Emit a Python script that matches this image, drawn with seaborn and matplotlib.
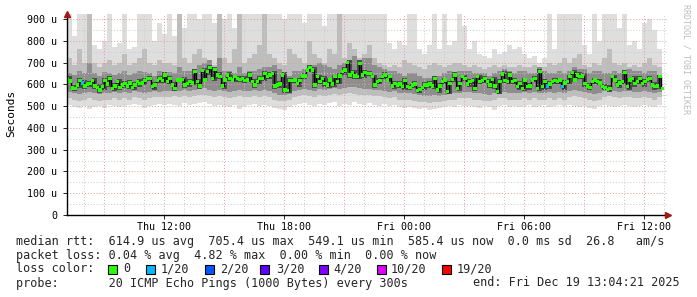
import numpy as np
import pandas as pd
import matplotlib
matplotlib.use("Agg")
import matplotlib.pyplot as plt
import matplotlib.dates as mdates
from matplotlib.patches import Rectangle
import seaborn as sns

# ---------------- data ----------------
# median RTT (microseconds), one value every 7.5 min from Thu 07:11
median_us = [
    625, 615, 584, 580, 597, 617, 607, 592, 601, 604, 617, 592, 586, 574, 589, 617, 601, 627, 581, 592,
    612, 586, 597, 604, 592, 607, 586, 597, 612, 604, 607, 617, 627, 627, 589, 597, 617,
    627, 617, 643, 612, 627, 597, 581, 620, 620, 623, 597, 604, 612, 607, 658, 612, 592, 663, 620, 658,
    678, 627, 669, 643, 635, 592, 620, 643, 627, 620, 635, 627, 623, 627, 617, 620, 643, 612, 597, 612, 627,
    627, 650, 635, 643, 650, 592, 597, 601, 643, 574, 571, 617, 617, 620, 604, 617, 638, 638, 666, 678,
    666, 597, 635, 612, 627, 604, 597, 620, 601, 635, 612, 638, 658, 666, 700, 643, 655, 638, 635, 696,
    643, 655, 650, 650, 635, 597, 612, 617, 635, 643, 620, 635, 592, 604, 597, 601, 589, 617, 589, 586,
    597, 601, 571, 577, 586, 597, 597, 601, 592, 627, 574, 592, 612, 620, 566, 604, 623, 643, 581, 604, 635,
    627, 601, 612, 617, 581, 635, 612, 617, 627, 612, 597, 623, 592, 566, 612, 648, 617, 612, 643, 612,
    617, 589, 604, 581, 620, 589, 592, 620, 627, 581, 658, 589, 612, 592, 601, 612, 617, 612, 620, 589,
    607, 612, 635, 655, 620, 643, 635, 638, 604, 592, 586, 612, 620, 612, 607, 589, 586, 577, 581, 635,
    620, 597, 607, 612, 655, 589, 620, 627, 604, 612, 627, 604, 612, 623, 627, 597, 589, 592, 635, 581,
]
# (index into median_us, lost pings out of 20)
loss_events = [(6, 1), (192, 1), (198, 1)]

# smoke envelopes (microseconds), one value every 15 min from Thu 07:08
smoke_max = [
    950, 820, 950, 950, 950, 780, 760, 800, 950, 770,
    790, 950, 760, 770, 950, 950, 950, 800, 880, 830,
    950, 820, 950, 860, 950, 950, 900, 950, 950, 880,
    950, 900, 950, 860, 950, 950, 950, 950, 950, 950,
    950, 950, 950, 900, 950, 950, 950, 880, 950, 950,
    950, 870, 950, 950, 950, 950, 950, 950, 950, 950,
    950, 950, 950, 950, 790, 760, 800, 780, 950, 950,
    760, 740, 780, 950, 760, 950, 780, 800, 950, 870,
    760, 800, 740, 730, 720, 760, 740, 750, 780, 760,
    770, 740, 720, 730, 700, 720, 950, 760, 950, 950,
    950, 950, 950, 780, 740, 950, 800, 950, 950, 950,
    860, 950, 780, 800, 760, 880, 900, 850, 760,
]
smoke_hi_mid = [
    720, 690, 760, 700, 950, 700, 680, 700, 710, 690,
    700, 740, 690, 700, 720, 760, 700, 690, 710, 700,
    700, 690, 950, 720, 700, 740, 760, 720, 700, 690,
    950, 720, 700, 760, 950, 700, 720, 740, 780, 950,
    740, 720, 700, 690, 760, 740, 720, 700, 800, 740,
    720, 700, 760, 740, 950, 720, 790, 760, 720, 740,
    780, 720, 700, 690, 680, 690, 680, 710, 700, 690,
    680, 670, 690, 700, 690, 680, 690, 700, 700, 690,
    680, 690, 680, 670, 680, 690, 680, 690, 680, 680,
    690, 680, 680, 690, 670, 680, 700, 690, 700, 720,
    700, 720, 740, 690, 680, 700, 690, 720, 760, 700,
    690, 700, 680, 690, 680, 700, 720, 690, 680,
]
smoke_hi_in = [
    650, 645, 660, 650, 700, 650, 640, 655, 650, 645,
    650, 660, 645, 650, 660, 655, 650, 640, 660, 650,
    655, 650, 680, 660, 660, 670, 690, 700, 710, 670,
    720, 660, 660, 650, 680, 650, 660, 660, 670, 680,
    680, 690, 670, 640, 640, 660, 660, 670, 680, 690,
    700, 690, 680, 670, 690, 700, 710, 730, 700, 720,
    720, 690, 680, 670, 660, 660, 650, 640, 650, 650,
    640, 630, 630, 640, 640, 650, 660, 650, 660, 660,
    660, 650, 650, 650, 640, 650, 660, 670, 660, 650,
    660, 660, 650, 650, 680, 660, 650, 650, 660, 650,
    660, 680, 670, 670, 650, 660, 660, 650, 650, 660,
    650, 660, 670, 660, 660, 650, 660, 660, 640,
]
smoke_hi_core = [
    640, 595, 630, 620, 615, 630, 600, 630, 640, 605,
    625, 615, 620, 610, 625, 630, 640, 610, 640, 655,
    640, 610, 630, 635, 625, 670, 625, 675, 690, 680,
    655, 630, 655, 645, 640, 640, 655, 625, 640, 660,
    655, 660, 615, 655, 630, 630, 630, 650, 690, 680,
    645, 640, 630, 645, 650, 680, 710, 665, 710, 665,
    660, 645, 630, 655, 645, 615, 615, 630, 600, 615,
    590, 610, 615, 640, 605, 630, 615, 655, 615, 645,
    625, 630, 645, 640, 625, 635, 625, 660, 655, 630,
    615, 630, 605, 640, 670, 625, 615, 630, 630, 620,
    645, 665, 655, 650, 605, 630, 625, 600, 595, 645,
    620, 665, 630, 640, 640, 625, 640, 610, 645,
]
smoke_lo_core = [
    605, 570, 585, 580, 590, 580, 560, 575, 590, 570,
    575, 585, 580, 575, 590, 595, 615, 575, 605, 605,
    600, 570, 610, 585, 590, 595, 580, 610, 645, 615,
    625, 580, 615, 610, 610, 605, 610, 585, 600, 615,
    625, 580, 585, 560, 560, 605, 590, 625, 655, 585,
    600, 590, 585, 590, 600, 645, 630, 625, 625, 630,
    640, 585, 600, 625, 610, 580, 585, 575, 575, 585,
    560, 575, 585, 580, 560, 600, 555, 610, 570, 615,
    590, 570, 600, 605, 585, 580, 555, 605, 600, 600,
    575, 570, 575, 610, 570, 575, 580, 600, 600, 575,
    600, 610, 625, 590, 575, 600, 595, 575, 565, 610,
    585, 600, 575, 590, 600, 590, 610, 575, 580,
]
smoke_lo_in = [
    565, 560, 555, 560, 565, 560, 555, 560, 560, 565,
    560, 565, 560, 570, 565, 560, 565, 570, 565, 570,
    570, 575, 570, 575, 570, 575, 580, 585, 575, 570,
    575, 570, 565, 570, 575, 570, 570, 575, 570, 575,
    570, 560, 550, 550, 555, 570, 575, 580, 575, 570,
    580, 575, 580, 585, 580, 585, 590, 590, 585, 580,
    580, 575, 575, 570, 565, 570, 560, 560, 560, 555,
    550, 545, 545, 550, 545, 550, 555, 560, 560, 565,
    565, 560, 560, 555, 550, 560, 565, 565, 560, 560,
    560, 565, 560, 565, 560, 560, 565, 560, 565, 560,
    570, 575, 570, 565, 560, 555, 560, 570, 575, 570,
    565, 570, 570, 565, 565, 570, 565, 560, 565,
]
smoke_lo_mid = [
    535, 530, 525, 530, 535, 530, 525, 530, 530, 535,
    530, 535, 530, 540, 535, 530, 535, 540, 540, 540,
    540, 545, 540, 545, 540, 545, 550, 550, 545, 540,
    545, 540, 535, 540, 545, 540, 540, 545, 540, 545,
    540, 530, 525, 525, 530, 540, 545, 550, 545, 540,
    550, 545, 550, 555, 550, 555, 560, 555, 550, 550,
    550, 545, 545, 540, 535, 540, 530, 530, 530, 525,
    520, 520, 515, 520, 520, 525, 530, 530, 535, 535,
    535, 530, 530, 525, 525, 530, 535, 535, 530, 530,
    530, 535, 530, 535, 530, 530, 535, 530, 535, 530,
    540, 545, 540, 535, 530, 525, 530, 540, 545, 540,
    535, 540, 540, 535, 535, 540, 535, 530, 540,
]
smoke_min = [
    505, 495, 490, 500, 485, 495, 500, 490, 505, 500,
    495, 500, 505, 510, 505, 490, 500, 505, 510, 505,
    510, 505, 500, 515, 505, 510, 515, 520, 510, 500,
    505, 500, 495, 505, 485, 500, 505, 510, 500, 505,
    500, 490, 485, 480, 495, 505, 510, 515, 505, 500,
    510, 505, 515, 520, 500, 510, 505, 520, 510, 505,
    515, 505, 500, 510, 500, 505, 495, 490, 495, 490,
    485, 490, 480, 485, 490, 495, 500, 495, 505, 500,
    500, 495, 490, 500, 495, 480, 500, 505, 495, 500,
    495, 500, 505, 495, 500, 505, 495, 500, 505, 500,
    505, 500, 495, 500, 490, 485, 500, 505, 500, 495,
    500, 505, 500, 495, 500, 505, 500, 495, 505,
]

y_ticks = [0, 100, 200, 300, 400, 500, 600, 700, 800, 900]
loss_levels = ["0", "1/20", "2/20", "3/20", "4/20", "10/20", "19/20"]
loss_colors = ["#26ff00", "#00b8ff", "#0059ff", "#5e00ff", "#7e00ff", "#dd00ff", "#ff0000"]

legend_lines = [
    "median rtt:  614.9 us avg  705.4 us max  549.1 us min  585.4 us now  0.0 ms sd  26.8   am/s",
    "packet loss: 0.04 % avg  4.82 % max  0.00 % min  0.00 % now",
]
probe_text = "probe:       20 ICMP Echo Pings (1000 Bytes) every 300s"
end_text = "end: Fri Dec 19 13:04:21 2025"

# ---------------- build frames ----------------
t_med = pd.date_range("2025-12-18 07:11", periods=len(median_us), freq="450s")
loss_pings = [0] * len(median_us)
for i, l in loss_events:
    loss_pings[i] = l
loss_lab = [("0" if l == 0 else f"{l}/20") for l in loss_pings]
df_med = pd.DataFrame({"time": t_med, "rtt": median_us, "loss": loss_lab})

t_smoke = pd.date_range("2025-12-18 07:08", periods=len(smoke_max) + 1, freq="15min")
def edge(a):
    return np.append(np.asarray(a, float), a[-1])

# ---------------- figure ----------------
sns.set_theme(style="white")
plt.rcParams["font.family"] = ["DejaVu Sans Mono", "DejaVu Sans"]

W, H = 697, 297
fig = plt.figure(figsize=(W / 100, H / 100), dpi=100)
fig.patch.set_facecolor("white")
ax = fig.add_axes([66.7 / W, (H - 215) / H, (668 - 66.7) / W, (215 - 14) / H])
ax.set_facecolor("white")

x0 = pd.Timestamp("2025-12-18 07:08")
x1 = pd.Timestamp("2025-12-19 13:12")
ax.set_xlim(x0, x1)
ax.set_ylim(0, 923)

tnum = mdates.date2num(t_smoke)
layers = [(smoke_min, smoke_max, "#dedede"),
          (smoke_lo_mid, smoke_hi_mid, "#bdbdbd"),
          (smoke_lo_in, smoke_hi_in, "#8e8e8e"),
          (smoke_lo_core, smoke_hi_core, "#4c4c4c")]
for lo, hi, c in layers:
    ax.fill_between(tnum, edge(lo), edge(hi), step="post", color=c, linewidth=0, zorder=1)

# grid on top of smoke
dot = (0, (1, 2))
for v in range(50, 923, 50):
    ax.axhline(v, color="#e59a9a" if v % 100 == 0 else "#c8c8c8", lw=0.7, ls=dot, zorder=2)
hours = pd.date_range("2025-12-18 08:00", "2025-12-19 13:00", freq="1h")
for h in hours:
    ax.axvline(mdates.date2num(h), color="#e59a9a" if h.hour % 3 == 0 else "#c8c8c8",
               lw=0.7, ls=dot, zorder=2)

# median: black step line + loss-coloured marks
sns.lineplot(data=df_med, x="time", y="rtt", ax=ax, color="black", lw=1.0,
             drawstyle="steps-mid", estimator=None, sort=False, zorder=3)
sns.scatterplot(data=df_med, x="time", y="rtt", hue="loss", hue_order=loss_levels,
                palette=dict(zip(loss_levels, loss_colors)), marker="s", s=6,
                linewidth=0, legend=False, ax=ax, zorder=4)

# axes styling
ax.set_xlabel("")
ax.set_ylabel("")
for s in ["top", "right"]:
    ax.spines[s].set_visible(False)
for s in ["left", "bottom"]:
    ax.spines[s].set_color("black")
    ax.spines[s].set_linewidth(1.0)
    ax.spines[s].set_zorder(5)
ax.set_yticks(y_ticks)
ax.set_yticklabels([("0" if v == 0 else f"{v} u") for v in y_ticks])
ax.xaxis.set_major_locator(mdates.HourLocator(byhour=[0, 6, 12, 18]))
ax.xaxis.set_major_formatter(mdates.DateFormatter("%a %H:%M"))
ax.tick_params(axis="both", labelsize=7.2, colors="black", length=3, width=0.6,
               direction="out", left=True, bottom=True)
ax.tick_params(axis="y", pad=4)
ax.tick_params(axis="x", pad=2)

# arrows
ax.plot([0], [1.0], marker="^", color="#a01818", ms=4.5, transform=ax.transAxes,
        clip_on=False, zorder=6)
ax.plot([1.0], [0], marker=">", color="#a01818", ms=4.5, transform=ax.transAxes,
        clip_on=False, zorder=6)

fig.text(11 / W, 1 - 113 / H, "Seconds", rotation=90, ha="center", va="center",
         fontsize=8, color="black")
fig.text(686 / W, 1 - 4 / H, "RRDTOOL / TOBI OETIKER", rotation=270, ha="center", va="top",
         fontsize=6, color="#bdbdbd")

# legend lines
fs = 8.45
fig.text(16 / W, 1 - 241 / H, legend_lines[0], ha="left", va="center", fontsize=fs)
fig.text(16 / W, 1 - 255 / H, legend_lines[1], ha="left", va="center", fontsize=fs)
fig.text(16 / W, 1 - 269 / H, "loss color:", ha="left", va="center", fontsize=fs)
sw_x = [108, 146, 205, 260, 319, 377, 442]
lb_x = [123, 161, 220, 276, 333, 391, 457]
for sx, lx, lab, c in zip(sw_x, lb_x, loss_levels, loss_colors):
    fig.patches.append(Rectangle((sx / W, 1 - 273.5 / H), 9 / W, 9 / H, transform=fig.transFigure,
                                 facecolor=c, edgecolor="black", lw=0.8))
    fig.text(lx / W, 1 - 269 / H, lab, ha="left", va="center", fontsize=fs)
fig.text(16 / W, 1 - 283 / H, probe_text, ha="left", va="center", fontsize=fs)
fig.text(680 / W, 1 - 283 / H, end_text, ha="right", va="center", fontsize=fs)

fig.savefig("out.png", dpi=100, facecolor="white")
